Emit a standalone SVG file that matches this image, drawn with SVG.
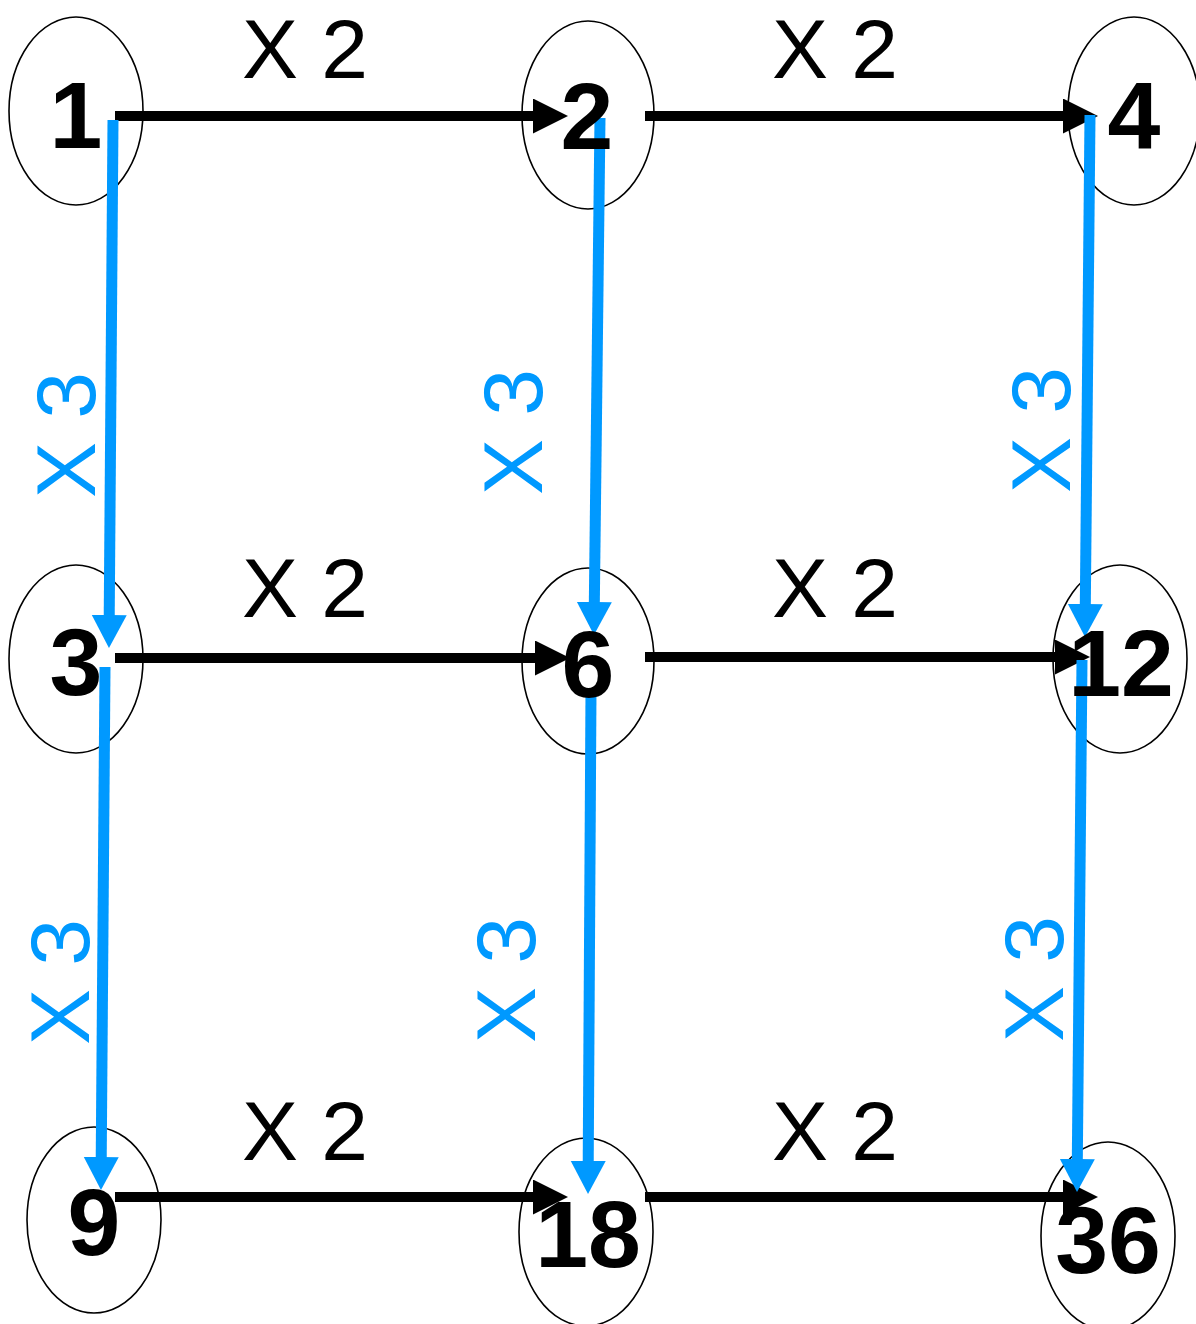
<svg xmlns="http://www.w3.org/2000/svg" width="1196" height="1324" viewBox="0 0 1196 1324">
  <style>
    .node ellipse { fill: none; stroke: #000; stroke-width: 1.6; }
    .num { font-family: "Liberation Sans", Arial, sans-serif; font-weight: bold; font-size: 95px; fill: #000; text-anchor: middle; }
    .lbl2 { font-family: "Liberation Sans", Arial, sans-serif; font-size: 84px; fill: #000; text-anchor: middle; }
    .lbl3 { font-family: "Liberation Sans", Arial, sans-serif; font-size: 84px; fill: #0099FF; text-anchor: middle; }
    .blk { stroke: #000; stroke-width: 10; fill: none; marker-end: url(#ahB); }
    .blu { stroke: #0099FF; stroke-width: 11; fill: none; marker-end: url(#ahL); }
  </style>
  <defs>
    <marker id="ahB" markerUnits="userSpaceOnUse" markerWidth="36" markerHeight="36" refX="5" refY="17.5" orient="auto" viewBox="0 0 36 36">
      <path d="M0,0 L35,17.5 L0,35 z" fill="#000"/>
    </marker>
    <marker id="ahL" markerUnits="userSpaceOnUse" markerWidth="36" markerHeight="36" refX="3" refY="17.5" orient="auto" viewBox="0 0 36 36">
      <path d="M0,0 L33,17.5 L0,35 z" fill="#0099FF"/>
    </marker>
  </defs>
  <rect width="1196" height="1324" fill="#fff"/>

  <g id="n1" class="node"><ellipse cx="76" cy="111" rx="67" ry="94"/></g>
  <g id="n2" class="node"><ellipse cx="588" cy="115" rx="66" ry="94"/></g>
  <g id="n4" class="node"><ellipse cx="1134" cy="111" rx="66" ry="94"/></g>
  <g id="n3" class="node"><ellipse cx="76" cy="659" rx="67" ry="94"/></g>
  <g id="n6" class="node"><ellipse cx="588" cy="661" rx="66" ry="93"/></g>
  <g id="n12" class="node"><ellipse cx="1120" cy="659" rx="67" ry="94"/></g>
  <g id="n9" class="node"><ellipse cx="94" cy="1220" rx="67" ry="93"/></g>
  <g id="n18" class="node"><ellipse cx="586" cy="1232" rx="67" ry="94"/></g>
  <g id="n36" class="node"><ellipse cx="1108" cy="1236" rx="67" ry="94"/></g>

  <g id="connectors">
    <line class="blk" x1="115" y1="116" x2="538" y2="116"/>
    <line class="blk" x1="645" y1="116" x2="1068" y2="116"/>
    <line class="blk" x1="115" y1="658" x2="540" y2="658"/>
    <line class="blk" x1="645" y1="657" x2="1060" y2="657"/>
    <line class="blk" x1="115" y1="1197" x2="538" y2="1197"/>
    <line class="blk" x1="645" y1="1197" x2="1068" y2="1197"/>

    <line class="blu" x1="113" y1="120" x2="109.2" y2="618"/>
    <line class="blu" x1="105" y1="667" x2="101.2" y2="1160"/>
    <line class="blu" x1="600" y1="118" x2="594.3" y2="605"/>
    <line class="blu" x1="591" y1="690" x2="588.2" y2="1164"/>
    <line class="blu" x1="1090" y1="115" x2="1085.3" y2="607"/>
    <line class="blu" x1="1082" y1="660" x2="1077.3" y2="1162"/>
  </g>

  <g id="labels">
    <text class="lbl2" x="305" y="78">X 2</text>
    <text class="lbl2" x="835" y="78">X 2</text>
    <text class="lbl2" x="305" y="617">X 2</text>
    <text class="lbl2" x="835" y="617">X 2</text>
    <text class="lbl2" x="305" y="1160">X 2</text>
    <text class="lbl2" x="835" y="1160">X 2</text>

    <text class="lbl3" transform="translate(95,435) rotate(-90)">X 3</text>
    <text class="lbl3" transform="translate(542,432) rotate(-90)">X 3</text>
    <text class="lbl3" transform="translate(1070,430) rotate(-90)">X 3</text>
    <text class="lbl3" transform="translate(89,982) rotate(-90)">X 3</text>
    <text class="lbl3" transform="translate(535,980) rotate(-90)">X 3</text>
    <text class="lbl3" transform="translate(1063,979) rotate(-90)">X 3</text>
  </g>

  <g id="numbers">
    <text class="num" x="76" y="148">1</text>
    <text class="num" x="587" y="149">2</text>
    <text class="num" x="1134" y="148">4</text>
    <text class="num" x="76" y="695">3</text>
    <text class="num" x="588" y="697">6</text>
    <text class="num" x="1121" y="696">12</text>
    <text class="num" x="94" y="1255">9</text>
    <text class="num" x="588" y="1267">18</text>
    <text class="num" x="1108" y="1273">36</text>
  </g>
</svg>
